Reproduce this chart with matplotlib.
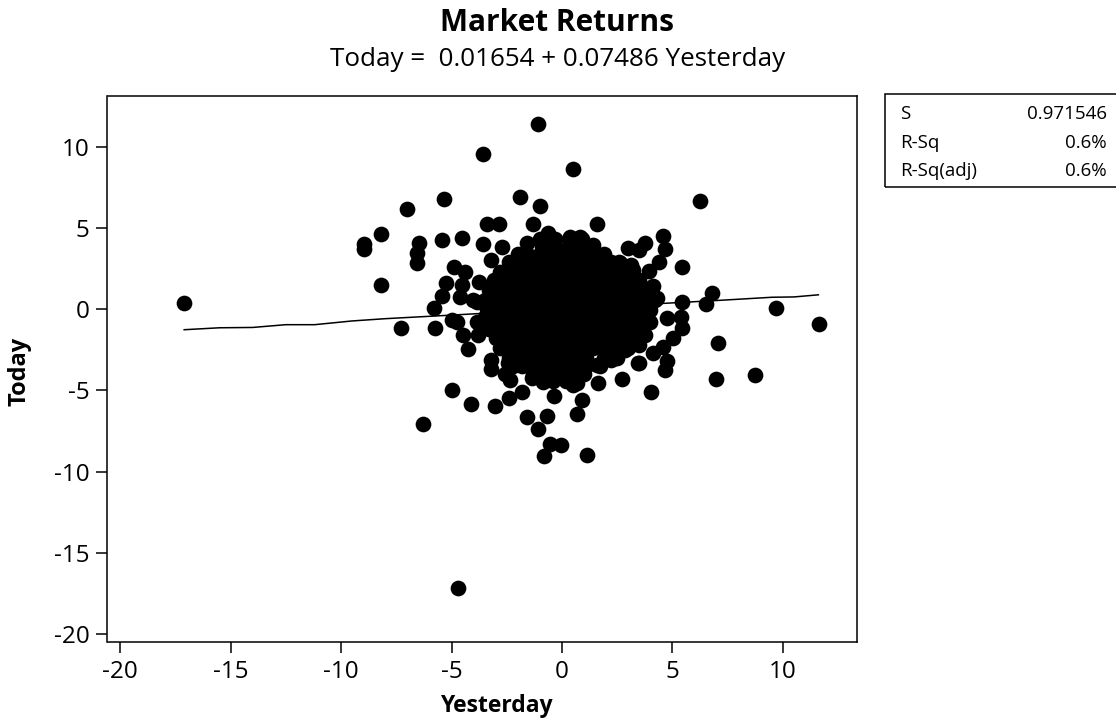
import matplotlib
matplotlib.use("Agg")
import matplotlib.pyplot as plt
from matplotlib.patches import Rectangle

plt.rcParams['font.family'] = ['Open Sans', 'DejaVu Sans']
plt.rcParams['axes.unicode_minus'] = False

W, H = 1116, 721

title = "Market Returns"
subtitle = "Today =  0.01654 + 0.07486 Yesterday"
x_label = "Yesterday"
y_label = "Today"
x_ticks = [-20, -15, -10, -5, 0, 5, 10]
y_ticks = [-20, -15, -10, -5, 0, 5, 10]
stat_names = ["S", "R-Sq", "R-Sq(adj)"]
stat_values = ["0.971546", "0.6%", "0.6%"]

fit_x = [-17.1, -15.5, -14.0, -12.5, -11.2, -9.5, -8.0, -5.0, -2.0, 1.0, 4.0, 7.0, 9.5, 10.5, 11.6]
fit_y = [-1.26, -1.14, -1.12, -0.95, -0.95, -0.72, -0.58, -0.36, -0.13, 0.09, 0.32, 0.54, 0.74, 0.76, 0.89]

outer_yesterday = [
    -17.10, -8.96, -8.96, -8.19, -8.19, -7.01, -5.34, -1.90, -1.00, -3.57, -1.09, 0.50, 6.24,
    -6.47, -6.56, -6.56, -5.43, -4.52, -3.39, -2.85, -1.31, 1.58, -3.57, -2.71, -3.21, -4.89,
    -4.39, -5.25, -3.76, -4.52, -5.43, -4.62, -4.03, -5.79, -7.29, -5.75, -4.98, -4.75, -4.48,
    -4.25, -3.80, -3.26, -3.21, -3.21, -2.35, -4.98, -4.12, -3.03, -2.40, -1.81, -0.36, -1.58,
    -0.68, -1.09, 0.68, 0.90, 0.68, 1.63, 2.71, 3.44, -0.54, -0.05, -0.81, 1.13, -6.29, 4.03,
    -4.71, 4.57, 4.66, 3.76, 3.48, 2.99, 4.39, 5.43, 3.94, 4.12, 6.79, 6.52, 5.43, 9.68, 11.63,
    4.75, 5.38, 5.43, 5.02, 4.57, 4.12, 7.06, 4.75, 4.66, 3.48, 6.97, 8.73,
    3.50, 3.76, 3.98, 3.76, 4.20, 3.50, 3.10, 2.85, 3.50, 2.20, -2.60, -2.20, -2.60, -3.40, -3.50,
    -1.58, -0.63, 0.36, 0.81, 1.40, 1.86, 2.62, 3.21, 4.07, 4.30, 3.98, 2.49, 1.58, 0.50, -0.86,
    -1.36, -2.44, -3.85, -3.85,
]
outer_today = [
    0.39, 4.02, 3.72, 4.64, 1.50, 6.18, 6.80, 6.92, 6.37, 9.57, 11.42, 8.64, 6.67,
    4.08, 3.47, 2.85, 4.27, 4.39, 5.26, 5.26, 5.26, 5.26, 4.02, 3.84, 3.04, 2.61,
    2.30, 1.62, 1.68, 1.50, 0.82, 0.76, 0.57, 0.08, -1.15, -1.15, -0.66, -0.78, -1.58,
    -2.45, -1.58, -1.09, -3.12, -3.68, -4.36, -4.97, -5.84, -5.96, -5.47, -5.10, -5.34, -6.64,
    -6.57, -7.38, -6.45, -5.59, -4.54, -4.54, -4.29, -3.31, -8.30, -8.36, -9.04, -8.98, -7.07, -5.10,
    -17.17, 4.52, 3.72, 4.08, 3.65, 3.78, 2.91, 2.61, 2.36, 1.44, 1.00, 0.33, 0.45, 0.08, -0.91,
    -0.54, -0.47, -1.15, -1.77, -2.32, -2.69, -2.08, -3.19, -3.74, -3.31, -4.29, -4.05,
    -0.70, -1.60, -0.05, 0.57, 0.60, 1.80, 2.70, -2.50, -2.20, -3.10, -4.00, -3.50, -2.20, 0.00, -0.50,
    4.08, 4.70, 4.45, 4.45, 3.96, 3.16, 2.85, 2.42, 1.37, 0.70, -0.78, -3.00, -3.43, -4.66, -4.48,
    -4.23, -3.31, 0.45, -0.78,
]

core_yesterday = [
    -1.0, -0.3, 0.3, 0.9,
    -0.9, -0.3, 0.3, 0.9,
    -2.0, -1.6, -1.0, -0.4, 0.2, 0.8, 1.4, 1.9,
    -2.4, -2.0, -1.4, -0.8, -0.2, 0.4, 1.0, 1.6, 2.2, 2.6,
    -2.8, -2.3, -1.7, -1.1, -0.5, 0.1, 0.7, 1.3, 1.9, 2.5, 3.0,
    -3.1, -2.6, -2.0, -1.4, -0.8, -0.2, 0.4, 1.0, 1.6, 2.2, 2.8, 3.3,
    -3.3, -2.8, -2.2, -1.6, -1.0, -0.4, 0.2, 0.8, 1.4, 2.0, 2.6, 3.1, 3.6,
    -3.5, -3.0, -2.4, -1.8, -1.2, -0.6, 0.0, 0.6, 1.2, 1.8, 2.4, 3.0, 3.5, 3.9,
    -2.5, -1.9, -1.3, -0.7, -0.1, 0.5, 1.1, 1.7, 2.3, 2.9,
    -3.3, -2.8, -2.2, -1.6, -1.0, -0.4, 0.2, 0.8, 1.4, 2.0, 2.6, 3.2, 3.7,
    -2.5, -1.9, -1.3, -0.7, -0.1, 0.5, 1.1, 1.7, 2.3, 2.9,
    -3.4, -2.9, -2.3, -1.7, -1.1, -0.5, 0.1, 0.7, 1.3, 1.9, 2.5, 3.3, 3.8,
    -2.6, -2.0, -1.4, -0.8, -0.2, 0.4, 1.0, 1.6, 2.2, 2.8,
    -3.3, -2.7, -2.1, -1.5, -0.9, -0.3, 0.3, 0.9, 1.5, 2.1, 2.7, 3.0, 3.5,
    -3.0, -2.4, -1.8, -1.2, -0.6, 0.0, 0.6, 1.2, 1.8, 2.4, 2.8, 3.3,
    -2.8, -2.2, -1.6, -1.0, -0.4, 0.2, 0.8, 1.4, 2.0, 2.4, 3.0,
    -2.4, -1.9, -1.3, -0.7, -0.1, 0.5, 1.1, 1.9, 2.4,
    -1.8, -1.2, -0.6, 0.0, 0.6, 1.1, 1.7,
    -1.3, -0.7, -0.1, 0.5, 1.0,
    -0.4, 0.2,
]
core_today = [
    4.3, 4.3, 4.3, 4.3,
    3.9, 3.9, 3.9, 3.9,
    3.4, 3.4, 3.4, 3.4, 3.4, 3.4, 3.4, 3.4,
    2.9, 2.9, 2.9, 2.9, 2.9, 2.9, 2.9, 2.9, 2.9, 2.9,
    2.3, 2.3, 2.3, 2.3, 2.3, 2.3, 2.3, 2.3, 2.3, 2.3, 2.3,
    1.8, 1.8, 1.8, 1.8, 1.8, 1.8, 1.8, 1.8, 1.8, 1.8, 1.8, 1.8,
    1.2, 1.2, 1.2, 1.2, 1.2, 1.2, 1.2, 1.2, 1.2, 1.2, 1.2, 1.2, 1.2,
    0.6, 0.6, 0.6, 0.6, 0.6, 0.6, 0.6, 0.6, 0.6, 0.6, 0.6, 0.6, 0.6, 0.6,
    0.3, 0.3, 0.3, 0.3, 0.3, 0.3, 0.3, 0.3, 0.3, 0.3,
    0.0, 0.0, 0.0, 0.0, 0.0, 0.0, 0.0, 0.0, 0.0, 0.0, 0.0, 0.0, 0.0,
    -0.3, -0.3, -0.3, -0.3, -0.3, -0.3, -0.3, -0.3, -0.3, -0.3,
    -0.6, -0.6, -0.6, -0.6, -0.6, -0.6, -0.6, -0.6, -0.6, -0.6, -0.6, -0.6, -0.6,
    -0.9, -0.9, -0.9, -0.9, -0.9, -0.9, -0.9, -0.9, -0.9, -0.9,
    -1.2, -1.2, -1.2, -1.2, -1.2, -1.2, -1.2, -1.2, -1.2, -1.2, -1.2, -1.2, -1.2,
    -1.8, -1.8, -1.8, -1.8, -1.8, -1.8, -1.8, -1.8, -1.8, -1.8, -1.8, -1.8,
    -2.4, -2.4, -2.4, -2.4, -2.4, -2.4, -2.4, -2.4, -2.4, -2.4, -2.4,
    -3.0, -3.0, -3.0, -3.0, -3.0, -3.0, -3.0, -3.0, -3.0,
    -3.5, -3.5, -3.5, -3.5, -3.5, -3.5, -3.5,
    -4.0, -4.0, -4.0, -4.0, -4.0,
    -4.4, -4.4,
]

fig = plt.figure(figsize=(W / 100, H / 100), dpi=100)
L, R, T, B = 107.5, 857, 96, 642
ax = fig.add_axes([L / W, 1 - B / H, (R - L) / W, (B - T) / H])
ax.set_xlim(-20.57, 13.35)
ax.set_ylim(-20.5, 13.14)

ax.scatter(outer_yesterday + core_yesterday, outer_today + core_today, s=128, c='black',
           linewidths=0, zorder=3)
ax.plot(fit_x, fit_y, color='black', lw=1.1, zorder=4)

ax.set_xticks(x_ticks)
ax.set_yticks(y_ticks)
ax.tick_params(axis='both', length=8, width=1.1, labelsize=17.5, color='black', pad=5)
for s in ax.spines.values():
    s.set_linewidth(1.1)


def fx(px):
    return px / W


def fy(py):
    return 1 - py / H


fig.text(fx(557), fy(23), title, ha='center', va='center', fontsize=21.5, fontweight='bold')
fig.text(fx(558), fy(60), subtitle, ha='center', va='center', fontsize=18.7)
fig.text(fx(496), fy(706), x_label, ha='center', va='center', fontsize=16.5, fontweight='bold')
fig.text(fx(19), fy(371), y_label, ha='center', va='center', rotation=90, fontsize=17, fontweight='bold')

fig.add_artist(Rectangle((fx(885), fy(187)), fx(1135) - fx(885), fy(94) - fy(187),
                         transform=fig.transFigure, fill=False, edgecolor='black', lw=1.1))
for name, val, py in zip(stat_names, stat_values, [114, 143, 171]):
    fig.text(fx(900), fy(py), name, ha='left', va='center', fontsize=13.5)
    fig.text(fx(1107), fy(py), val, ha='right', va='center', fontsize=13.5)

fig.savefig("out.png", dpi=100)
